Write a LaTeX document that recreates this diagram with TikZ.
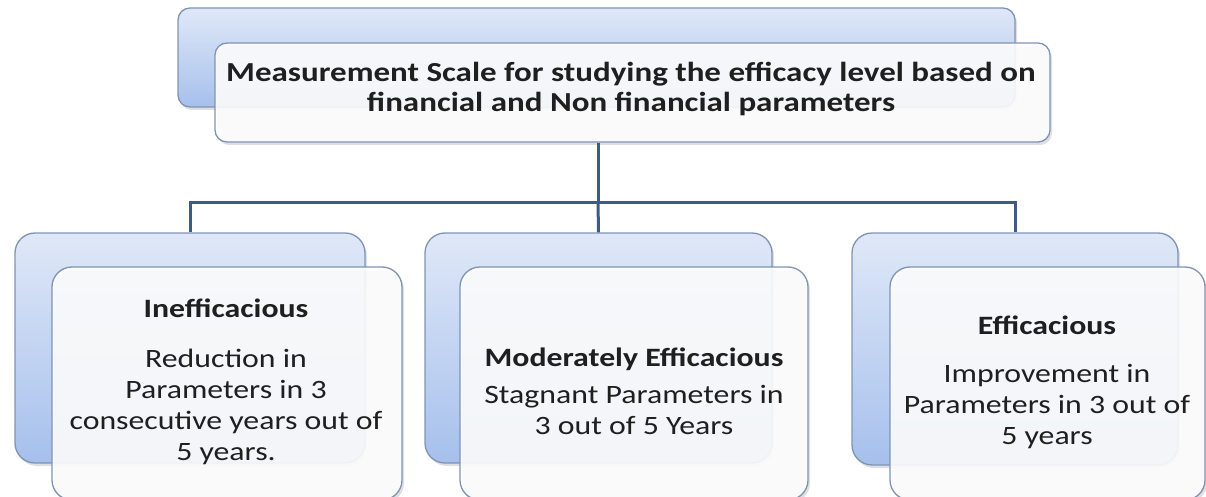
\documentclass[tikz,border=0pt]{standalone}
\usepackage{fontspec}
\setmainfont{Carlito}[FakeStretch=1.2]
\usetikzlibrary{shadows}
\definecolor{edge}{HTML}{7F93B5}
\definecolor{conn}{HTML}{3E5B86}
\definecolor{btop}{HTML}{DFE8F7}
\definecolor{bbot}{HTML}{A6C0EC}
\definecolor{txt}{HTML}{1F1F1F}
\tikzset{
  shad/.style={drop shadow={opacity=0.25, shadow xshift=2pt, shadow yshift=-3pt}},
  backbox/.style={draw=edge, line width=1.3pt, rounded corners=20pt, top color=btop, bottom color=bbot, shad, inner sep=0pt},
  frontbox/.style={draw=edge, line width=1.3pt, rounded corners=20pt, fill=white, fill opacity=0.88, shad, inner sep=0pt},
  conn/.style={draw=conn, line width=3pt},
  label/.style={text=txt, align=center, font=\fontsize{26.5}{31}\selectfont},
  titlelabel/.style={text=txt, align=center, font=\bfseries\fontsize{27.5}{30}\selectfont}
}
\begin{document}
\begin{tikzpicture}[x=1pt,y=-1pt]
\useasboundingbox (0,0) rectangle (1206,497);
% top
\node[backbox, rounded corners=12pt, minimum width=837pt, minimum height=99pt] (tb) at (596.5,57.5) {};
\node[frontbox, rounded corners=12pt, minimum width=835pt, minimum height=99pt] (tf) at (632.5,92.5) {};
\node[titlelabel] (title) at (631,88.5) {Measurement Scale for studying the efficacy level based on\\financial and Non financial parameters};
% bottom back boxes
\node[backbox, minimum width=350pt, minimum height=230pt] (lb) at (190,348) {};
\node[backbox, minimum width=347pt, minimum height=230pt] (mb) at (598.5,348) {};
\node[backbox, minimum width=326pt, minimum height=232pt] (rb) at (1015,349) {};
% connectors
\coordinate (bus) at (598,202);
\draw[conn] (bus |- tf.south) -- (bus);
\draw[conn] (lb.north) |- (bus) -| (rb.north);
\draw[conn] (bus) -- (mb.north);
% front boxes
\node[frontbox, minimum width=350pt, minimum height=233pt] (lf) at (227,383.5) {};
\node[frontbox, minimum width=348pt, minimum height=233pt] (mf) at (634,383.5) {};
\node[frontbox, minimum width=315pt, minimum height=233pt] (rf) at (1047.5,383.5) {};
% texts
\node[label] (lt) at (226,382) {\textbf{Inefficacious}\\[19pt]Reduction in\\Parameters in 3\\consecutive years out of\\5 years.};
\node[label] (mt) at (634,391) {\textbf{Moderately Efficacious}\\[6pt]Stagnant Parameters in\\3 out of 5 Years};
\node[label] (rt) at (1047,382) {\textbf{Efficacious}\\[17pt]Improvement in\\Parameters in 3 out of\\5 years};
\end{tikzpicture}
\end{document}
